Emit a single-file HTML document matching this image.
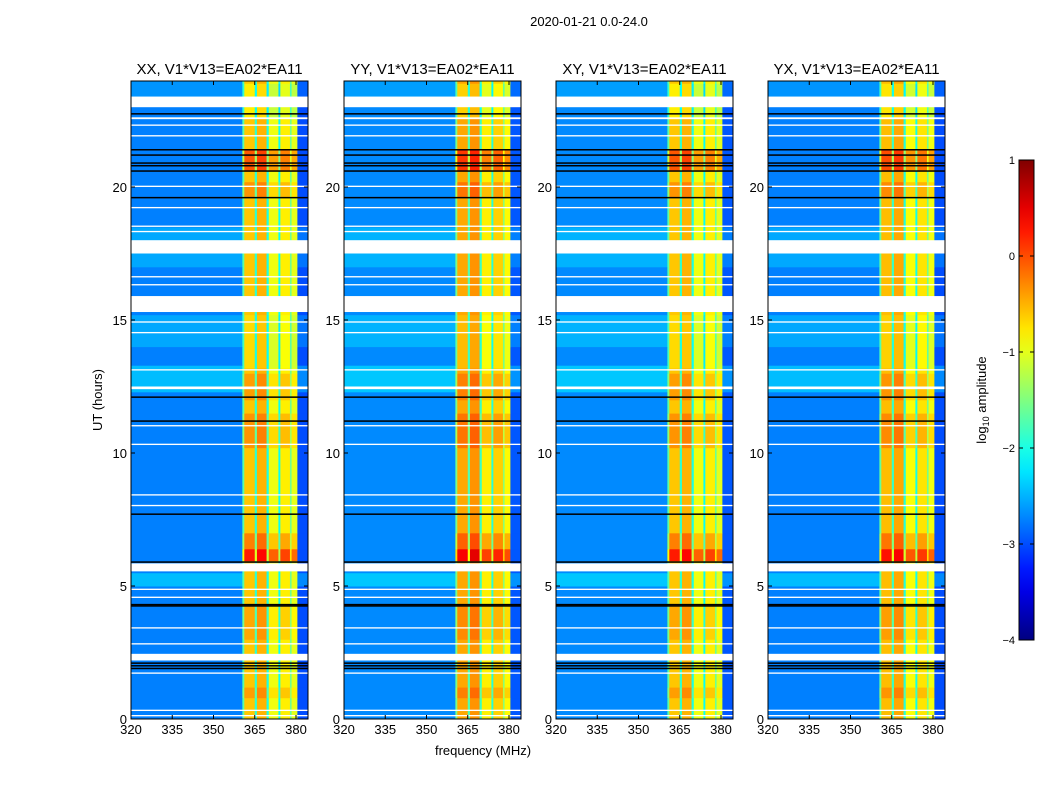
<!DOCTYPE html>
<html><head><meta charset="utf-8"><style>
body{margin:0;background:#fff;}
svg text{font-family:"Liberation Sans",sans-serif;fill:#000;}
</style></head><body>
<svg id="fig" width="1050" height="800" xmlns="http://www.w3.org/2000/svg">
<rect width="1050" height="800" fill="#fff"/>
<text x="589" y="26" font-size="13" text-anchor="middle">2020-01-21 0.0-24.0</text>
<text x="483" y="755" font-size="13" text-anchor="middle">frequency (MHz)</text>
<text x="102" y="400" font-size="13" text-anchor="middle" transform="rotate(-90 102 400)">UT (hours)</text>
<text x="986" y="400" font-size="13" text-anchor="middle" transform="rotate(-90 986 400)">log<tspan font-size="9" dy="3">10</tspan><tspan dy="-3"> amplitude</tspan></text>
<g id="panels"></g>
<g id="cbar"></g>
</svg>
<script>
const panelTitles = ["XX, V1*V13=EA02*EA11","YY, V1*V13=EA02*EA11","XY, V1*V13=EA02*EA11","YX, V1*V13=EA02*EA11"];
const panelBandOffset = [0, 0.15, 0.0, 0.05];
const panelBgOffset = [0, 0.05, 0.05, 0.0];
const freqEdges = [320,360.5,361.2,365,365.8,369.3,370.1,373.6,374.3,377.8,378.4,380.5,384.4];
const specVals = [-2.75,-1.7,-0.6,-1.9,-0.5,-2.0,-0.95,-2.1,-0.8,-1.6,-1.0,-3.0];
const flagWhite = [[23.0,23.4],[22.55,22.62],[22.3,22.35],[21.9,21.95],[20.0,20.05],[19.2,19.25],[18.5,18.55],[18.3,18.35],[17.5,18.0],[16.6,16.65],[16.3,16.35],[15.3,15.9],[14.9,14.95],[14.5,14.55],[13.1,13.15],[12.4,12.5],[11.0,11.05],[10.3,10.35],[8.4,8.45],[8.0,8.05],[5.55,5.85],[4.85,4.9],[4.55,4.6],[3.4,3.45],[2.8,2.85],[2.2,2.45],[1.7,1.75],[0.3,0.35],[0.1,0.15]];
const blackLines = [22.75,21.4,21.2,20.9,20.8,20.6,19.6,12.1,11.2,7.7,5.9,4.3,4.25,2.1,2.0,1.9];
const gainBands = [[20.6,21.4,0.55],[19.6,20.2,0.25],[5.95,6.4,0.85],[6.4,7.0,0.35],[10.2,11.5,0.25],[12.0,13.0,0.2],[3.0,4.3,0.15],[0.8,1.2,0.2],[13.2,15.2,-0.1],[22.6,23.9,-0.2]];
const bgBands = [[12.3,13.3,0.3],[14.0,15.2,0.2],[5.0,5.5,0.3],[17.0,18.5,0.2],[23.4,24,0.1]];
const xTicks = [320,335,350,365,380];
const yTicks = [0,5,10,15,20];
const cbarTicks = [1,0,-1,-2,-3,-4];
const panelX = [131,344,556,768];
const NS="http://www.w3.org/2000/svg";
const vmin=-4,vmax=1;
function jet(v){let t=(v-vmin)/(vmax-vmin);t=Math.max(0,Math.min(1,t));
 const c=x=>Math.round(255*Math.max(0,Math.min(1,x)));
 return `rgb(${c(1.5-Math.abs(4*t-3))},${c(1.5-Math.abs(4*t-2))},${c(1.5-Math.abs(4*t-1))})`;}
function mk(tag,attrs,parent){const e=document.createElementNS(NS,tag);for(const k in attrs)e.setAttribute(k,attrs[k]);parent.appendChild(e);return e;}
const W=177,pTop=81,bot=719,pxMHz=2.75,pxH=26.6;
const yS=h=>bot-h*pxH;
const panels=document.getElementById('panels');
let bps=[0,24];
gainBands.forEach(b=>bps.push(b[0],b[1]));bgBands.forEach(b=>bps.push(b[0],b[1]));
bps=[...new Set(bps)].filter(v=>v>=0&&v<=24).sort((a,b)=>a-b);
function sumIn(arr,h){let s=0;arr.forEach(b=>{if(h>=b[0]&&h<b[1])s+=b[2];});return s;}
panelTitles.forEach((title,p)=>{
 const x0=panelX[p];const xS=f=>x0+(f-320)*pxMHz;
 const g=mk('g',{},panels);
 
 
 const cl=mk('clipPath',{id:'c'+p},g);mk('rect',{x:x0,y:pTop,width:W,height:bot-pTop},cl);
 const hm=mk('g',{'clip-path':'url(#c'+p+')'},g);
 for(let i=0;i<bps.length-1;i++){
  const h0=bps[i],h1=bps[i+1],hm_=(h0+h1)/2;
  const gain=sumIn(gainBands,hm_),bg=sumIn(bgBands,hm_);
  for(let j=0;j<specVals.length;j++){
   const base=specVals[j];const inBand=base>-2.2;
   const v=base+(inBand?gain+panelBandOffset[p]:bg+panelBgOffset[p]);
   const r=mk('rect',{x:xS(freqEdges[j]),y:yS(h1),width:xS(freqEdges[j+1])-xS(freqEdges[j])+0.5,height:yS(h0)-yS(h1)+0.5,fill:jet(v)},hm);
   
   
  }
 }
 flagWhite.forEach(b=>{const r=mk('rect',{x:x0,y:yS(b[1]),width:W,height:Math.max(1,yS(b[0])-yS(b[1])),fill:'#fff'},hm);
  
  });
 blackLines.forEach(h=>{const r=mk('rect',{x:x0,y:yS(h)-0.75,width:W,height:1.5,fill:'#000'},hm);
  
  });
 mk('rect',{x:x0,y:pTop,width:W,height:bot-pTop,fill:'none',stroke:'#000','stroke-width':1},g);
 const t=mk('text',{x:x0+W/2,y:pTop-7,'font-size':15,'text-anchor':'middle'},g);t.textContent=title;
 
 
 xTicks.forEach(f=>{const x=xS(f);
  mk('line',{x1:x,x2:x,y1:bot,y2:bot-4,stroke:'#000'},g);mk('line',{x1:x,x2:x,y1:pTop,y2:pTop+4,stroke:'#000'},g);
  const tl=mk('text',{x:x,y:bot+15,'font-size':13,'text-anchor':'middle'},g);tl.textContent=f;
  
  });
 yTicks.forEach(h=>{const y=yS(h);
  mk('line',{x1:x0,x2:x0+4,y1:y,y2:y,stroke:'#000'},g);mk('line',{x1:x0+W,x2:x0+W-4,y1:y,y2:y,stroke:'#000'},g);
  const tl=mk('text',{x:x0-4,y:y+5,'font-size':13,'text-anchor':'end'},g);tl.textContent=h;
  
  });
});
const cb=document.getElementById('cbar');
const cx=1019,cw=15,ct=160,cbt=640;
const cyS=v=>cbt-(v-vmin)/(vmax-vmin)*(cbt-ct);
const defs=mk('defs',{},cb);const lg=mk('linearGradient',{id:'jetg',x1:0,y1:1,x2:0,y2:0},defs);
for(let i=0;i<=20;i++){mk('stop',{offset:i/20,'stop-color':jet(vmin+i/20*(vmax-vmin))},lg);}
const cr=mk('rect',{x:cx,y:ct,width:cw,height:cbt-ct,fill:'url(#jetg)',stroke:'#000','stroke-width':1},cb);


cbarTicks.forEach(v=>{const y=cyS(v);
 mk('line',{x1:cx,x2:cx+4,y1:y,y2:y,stroke:'#000'},cb);mk('line',{x1:cx+cw,x2:cx+cw-4,y1:y,y2:y,stroke:'#000'},cb);
 const tl=mk('text',{x:cx-4,y:y+4,'font-size':11,'text-anchor':'end'},cb);tl.textContent=v<0?'\u2212'+(-v):v;
 
 });
</script>
</body></html>
